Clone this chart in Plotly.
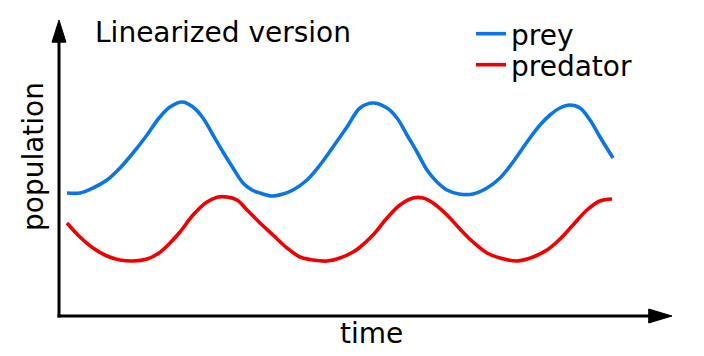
import plotly.graph_objects as go

# ---- data (arbitrary units) ----
prey_time = [8, 21, 34, 48, 61, 74, 88, 100, 111, 123, 134, 144, 154, 164, 174, 184, 193, 201,
             213, 224, 234, 248, 261, 274, 288, 301, 314, 328, 338, 348, 358, 368, 378, 388,
             400, 414, 428, 441, 454, 468, 481, 491, 501, 511, 521, 531, 541, 554]
prey_pop = [123, 123, 128, 136, 148, 163, 181, 198, 209, 214, 209, 198, 181, 164, 148, 133, 126, 123,
            120, 122, 126, 136, 151, 169, 189, 208, 213, 208, 198, 181, 164, 146, 134, 126,
            122, 122, 128, 138, 154, 174, 191, 201, 208, 211, 208, 196, 179, 158]

pred_time = [8, 21, 34, 48, 61, 74, 88, 100, 111, 121, 134, 148, 159, 168, 178, 188, 200,
             214, 228, 241, 254, 268, 281, 294, 300, 314, 328, 341, 354, 364, 374, 388, 400,
             414, 428, 441, 458, 474, 488, 500, 514, 528, 541, 553]
pred_pop = [93, 79, 68, 60, 56, 55, 57, 63, 73, 84, 101, 114, 119, 119, 116, 106, 94,
            81, 68, 59, 56, 55, 58, 64, 68, 81, 98, 111, 118, 118, 113, 101, 88,
            74, 63, 58, 55, 59, 66, 76, 91, 106, 115, 117]

series_names = ["prey", "predator"]
title_text = "Linearized version"
x_label = "time"
y_label = "population"

BLUE = "rgb(10,118,230)"
RED = "rgb(240,0,0)"
FONT = "DejaVu Sans"
FS = 28

# the page body has an 8px default margin; the figure is sized/offset to compensate
PAGE_OFF = 8
W, H = 704 - PAGE_OFF, 356 - PAGE_OFF

fig = go.Figure()
fig.add_trace(go.Scatter(x=prey_time, y=prey_pop, mode="lines", name=series_names[0],
                         legend="legend",
                         line=dict(color=BLUE, width=3.6, shape="spline", smoothing=1.0)))
fig.add_trace(go.Scatter(x=pred_time, y=pred_pop, mode="lines", name=series_names[1],
                         legend="legend2",
                         line=dict(color=RED, width=3.6, shape="spline", smoothing=1.0)))

# axis arrows (decoration, in paper coordinates)
ax_col = "black"
shapes = [
    dict(type="line", xref="paper", yref="paper", x0=0, y0=-0.005, x1=0, y1=0.94,
         line=dict(color=ax_col, width=3)),
    dict(type="line", xref="paper", yref="paper", x0=-0.0025, y0=0, x1=0.965, y1=0,
         line=dict(color=ax_col, width=3)),
    dict(type="path", xref="paper", yref="paper",
         path="M -0.0114 0.925 L 0 1 L 0.0114 0.925 Z",
         fillcolor=ax_col, line=dict(color=ax_col, width=1)),
    dict(type="path", xref="paper", yref="paper",
         path="M 0.962 0.0236 L 1 0 L 0.962 -0.0236 Z",
         fillcolor=ax_col, line=dict(color=ax_col, width=1)),
]

annotations = [
    dict(text=x_label, xref="paper", yref="paper", x=(372 - 59) / 613, y=0,
         xanchor="center", yanchor="middle", yshift=-17, showarrow=False,
         font=dict(family=FONT, size=FS, color="black")),
    dict(text=y_label, xref="paper", yref="paper", x=0, y=(316 - 157) / 296,
         xanchor="center", yanchor="middle", xshift=-26, textangle=-90, showarrow=False,
         font=dict(family=FONT, size=FS, color="black")),
]

legend_common = dict(xanchor="left", yanchor="top", bgcolor="rgba(0,0,0,0)",
                     font=dict(family=FONT, size=FS, color="black"))

fig.update_layout(
    width=W, height=H,
    margin=dict(l=59 - PAGE_OFF, r=32, t=20 - PAGE_OFF, b=40, autoexpand=False),
    paper_bgcolor="white", plot_bgcolor="white",
    font=dict(family=FONT, size=FS, color="black"),
    title=dict(text=title_text, x=(95 - PAGE_OFF) / W, xanchor="left", xref="container",
               y=1 - (32 - PAGE_OFF) / H, yanchor="middle", yref="container",
               font=dict(family=FONT, size=FS, color="black")),
    xaxis=dict(range=[0, 613], showgrid=False, zeroline=False, showline=False,
               showticklabels=False, ticks="", automargin=False),
    yaxis=dict(range=[0, 296], showgrid=False, zeroline=False, showline=False,
               showticklabels=False, ticks="", automargin=False),
    legend=dict(x=(471 - 59) / 613, y=(316 - 9) / 296, **legend_common),
    legend2=dict(x=(471 - 59) / 613, y=(316 - 40) / 296, **legend_common),
    annotations=annotations,
    shapes=shapes,
    showlegend=True,
)

fig.write_html("out.html")
